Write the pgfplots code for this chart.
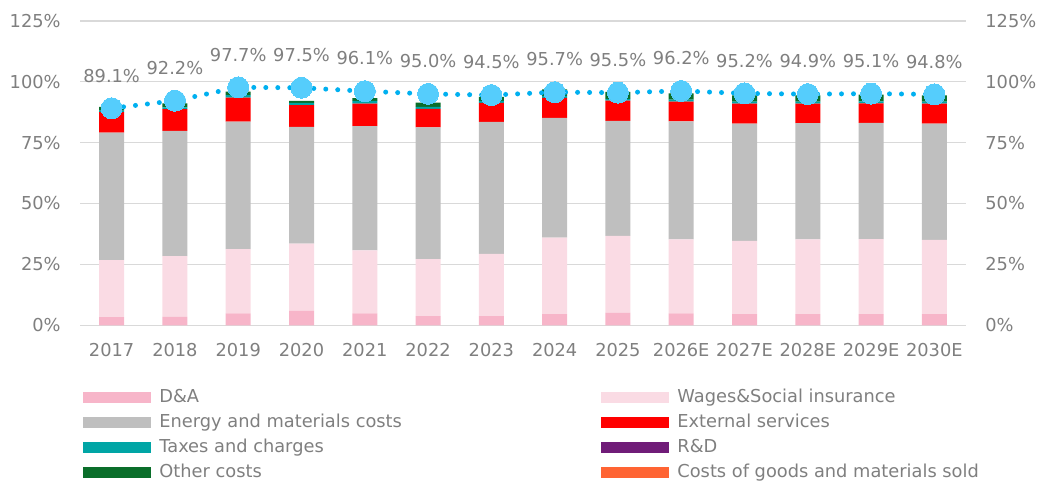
\documentclass[border=0pt]{standalone}
\usepackage{pgfplots}
\usepackage{pgfplotstable}
\pgfplotsset{compat=1.18}
\usepackage{fontspec}
\setmainfont{DejaVu Sans}
\definecolor{cDA}{HTML}{F7B5C9}
\definecolor{cW}{HTML}{FADBE4}
\definecolor{cE}{HTML}{BFBFBF}
\definecolor{cX}{HTML}{FF0000}
\definecolor{cT}{HTML}{00A5A5}
\definecolor{cR}{HTML}{701C78}
\definecolor{cO}{HTML}{0A6E2A}
\definecolor{cC}{HTML}{FF6433}
\definecolor{cLine}{HTML}{00B0F0}
\definecolor{cMark}{HTML}{55CDFC}
\definecolor{gridgray}{HTML}{D9D9D9}
\definecolor{labelgray}{HTML}{7F7F7F}

\pgfplotstableread{
x DA W E X T R O C
0 3.4 23.4 52.3 8.4 0.6 0 1.6 0
1 3.5 24.9 51.4 8.9 0.8 0 1.6 0
2 4.9 26.4 52.3 9.9 1.0 0 1.4 0
3 6.0 27.5 48.0 8.9 0.9 0 0.8 0
4 4.9 25.9 51.0 9.2 1.1 0 1.2 0
5 3.8 23.4 54.1 7.5 0.9 0 1.7 0
6 3.8 25.5 54.2 7.8 0.8 0 1.7 0
7 4.6 31.4 49.1 8.3 0.8 0 2.7 0
8 5.2 31.5 47.2 8.3 0.8 0 2.8 0
9 4.9 30.4 48.4 8.1 0.8 0 2.6 0
10 4.6 30.1 48.1 8.2 0.8 0 2.6 0
11 4.6 30.7 47.7 8.0 0.8 0 2.6 0
12 4.6 30.8 47.7 8.0 0.8 0 2.8 0
13 4.6 30.5 47.7 8.2 0.8 0 2.6 0
}\bars

\pgfplotstableread{
x y
0 89.1
1 92.2
2 97.7
3 97.5
4 96.1
5 95.0
6 94.5
7 95.7
8 95.5
9 96.2
10 95.2
11 94.9
12 95.1
13 94.8
}\totals

\pgfplotsset{
  common/.style={
    at={(40pt,-162.65pt)}, anchor=south west,
    scale only axis, width=443pt, height=152.25pt,
    xmin=-0.5, xmax=13.5, ymin=0, ymax=125,
    axis line style={draw=none}, tick style={draw=none},
    major tick length=0pt,
    ytick={0,25,50,75,100,125},
    yticklabels={0\%,25\%,50\%,75\%,100\%,125\%},
    tick label style={font=\fontsize{8.9}{10.7}\selectfont, text=labelgray, inner sep=0pt},
  }
}

\begin{document}
\begin{tikzpicture}[font=\fontsize{8.9}{10.7}\selectfont]
\useasboundingbox (0,0) rectangle (518.5pt,-241pt);

\begin{axis}[common,
  ybar stacked, bar width=12.5pt,
  ymajorgrids, grid style={color=gridgray, line width=0.75pt},
  xtick={0,...,13},
  xticklabels={2017,2018,2019,2020,2021,2022,2023,2024,2025,2026E,2027E,2028E,2029E,2030E},
  xticklabel style={anchor=north, yshift=-9pt},
  yticklabel style={anchor=east, xshift=-9.5pt},
]
\addplot[fill=cDA, draw=none] table[x=x,y=DA]{\bars};
\addplot[fill=cW, draw=none] table[x=x,y=W]{\bars};
\addplot[fill=cE, draw=none] table[x=x,y=E]{\bars};
\addplot[fill=cX, draw=none] table[x=x,y=X]{\bars};
\addplot[fill=cT, draw=none] table[x=x,y=T]{\bars};
\addplot[fill=cR, draw=none] table[x=x,y=R]{\bars};
\addplot[fill=cO, draw=none] table[x=x,y=O]{\bars};
\addplot[fill=cC, draw=none] table[x=x,y=C]{\bars};
\end{axis}

\begin{axis}[common,
  xtick=\empty,
  yticklabel pos=right,
  yticklabel style={anchor=west, xshift=9.5pt},
  clip=false,
]
\addplot[color=cLine, line width=2.5pt, dash pattern=on 0pt off 6pt, line cap=round] table[x=x,y=y]{\totals};
\addplot[only marks, color=cMark, mark=*, mark size=5.25pt, mark options={fill=cMark, draw=cMark, line width=0pt},
  point meta=y,
  nodes near coords={\pgfmathprintnumber[fixed, fixed zerofill, precision=1, assume math mode=true]{\pgfplotspointmeta}\%},
  nodes near coords style={anchor=south, inner sep=0pt, yshift=13pt, text=labelgray, font=\fontsize{8.9}{10.7}\selectfont},
] table[x=x,y=y]{\totals};
\end{axis}

% legend
\begin{scope}[every node/.style={anchor=base west, inner sep=0pt, text=labelgray}]
\fill[cDA] (41.5pt,-196pt) rectangle (75.5pt,-201.5pt);
\node at (79.5pt,-201.35pt) {D\&A};
\fill[cW] (300.5pt,-196pt) rectangle (334.5pt,-201.5pt);
\node at (338.5pt,-201.35pt) {Wages\&Social insurance};
\fill[cE] (41.5pt,-208.5pt) rectangle (75.5pt,-214pt);
\node at (79.5pt,-213.85pt) {Energy and materials costs};
\fill[cX] (300.5pt,-208.5pt) rectangle (334.5pt,-214pt);
\node at (338.5pt,-213.85pt) {External services};
\fill[cT] (41.5pt,-221pt) rectangle (75.5pt,-226.5pt);
\node at (79.5pt,-226.35pt) {Taxes and charges};
\fill[cR] (300.5pt,-221pt) rectangle (334.5pt,-226.5pt);
\node at (338.5pt,-226.35pt) {R\&D};
\fill[cO] (41.5pt,-233.5pt) rectangle (75.5pt,-239pt);
\node at (79.5pt,-238.85pt) {Other costs};
\fill[cC] (300.5pt,-233.5pt) rectangle (334.5pt,-239pt);
\node at (338.5pt,-238.85pt) {Costs of goods and materials sold};
\end{scope}
\end{tikzpicture}
\end{document}
